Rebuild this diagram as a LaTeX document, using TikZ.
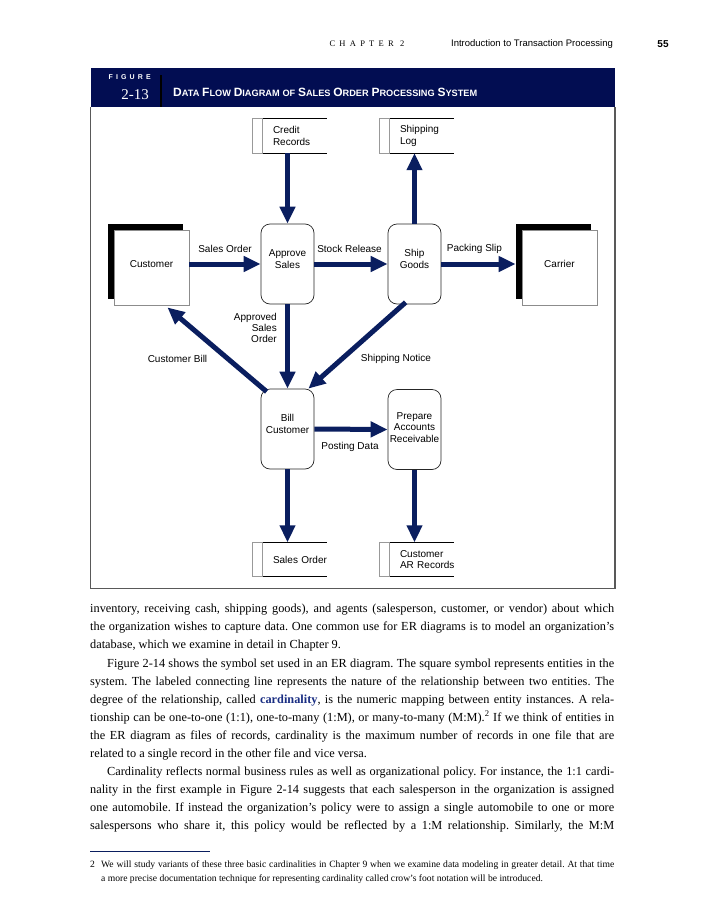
\documentclass[tikz,border=0pt]{standalone}
\usepackage{fontspec}
\setmainfont{Liberation Serif}
\setsansfont{Liberation Sans}
\usepackage{xcolor}
\usetikzlibrary{arrows.meta,shadows}
\definecolor{bandblue}{RGB}{2,13,82}
\definecolor{flowblue}{RGB}{10,30,95}
\definecolor{keyblue}{RGB}{25,45,130}
\newfontfamily\spacedserif[LetterSpace=50]{Liberation Serif}
\newfontfamily\spacedsans[LetterSpace=45]{Liberation Sans}
\newcommand{\capsm}[2]{{\fontsize{12}{12}\selectfont #1}{\fontsize{9.2}{12}\selectfont #2}}
\newcommand{\fullline}[1]{\makebox[524pt][s]{#1}}
\newcommand{\fnline}[1]{\makebox[513pt][s]{#1}}
\tikzset{
  lbl/.style={font=\sffamily\fontsize{10}{11}\selectfont, inner sep=0pt},
  proc/.style={draw=black!85, line width=0.7pt, rounded corners=9pt, fill=white,
    minimum width=53pt, minimum height=80pt, inner xsep=1pt, align=center,
    text depth=10pt, font=\sffamily\fontsize{10}{11.5}\selectfont},
  entity/.style={draw=black!45, line width=0.8pt, fill=white, minimum size=75pt,
    text depth=7pt, font=\sffamily\fontsize{10}{11.5}\selectfont,
    drop shadow={shadow xshift=-6pt, shadow yshift=6pt, fill=black, opacity=1}},
  store/.style={minimum width=64pt, minimum height=34pt, text width=44pt,
    inner xsep=10pt, align=left, font=\sffamily\fontsize{10}{11.5}\selectfont},
  flow/.style={line width=5pt, flowblue, -{Triangle[length=17pt,width=15pt]}},
}
\begin{document}
\begin{tikzpicture}[x=1pt,y=-1pt]
\useasboundingbox (0,0) rectangle (719,900);
\draw (367,44) node[font=\spacedserif\fontsize{8.5}{10}\selectfont](chap) {CHAPTER 2};
\draw (532,44) node[font=\sffamily\fontsize{9.5}{11}\selectfont](runhead) {Introduction to Transaction Processing};
\draw (663,44) node[font=\sffamily\bfseries\fontsize{10}{12}\selectfont](pagenum) {55};

\fill[bandblue] (90.5,68) rectangle (615,107);
\draw[black!65, line width=1.2pt] (90.5,107) -- (90.5,588.5) -- (615,588.5) -- (615,107);
\draw[black, line width=1.2pt] (161,75) -- (161,107);
\draw (151,77) node[anchor=east, inner sep=0pt, text=white, font=\spacedsans\bfseries\fontsize{7}{8}\selectfont](figword) {FIGURE};
\draw (149,95) node[anchor=east, inner sep=0pt, text=white, font=\fontsize{15}{16}\selectfont](fignum) {2-13};
\draw (173,92) node[anchor=west, inner sep=0pt, text=white, font=\sffamily\bfseries](figtitle)
  {\capsm{D}{ATA} \capsm{F}{LOW} \capsm{D}{IAGRAM} \capsm{}{OF} \capsm{S}{ALES} \capsm{O}{RDER} \capsm{P}{ROCESSING} \capsm{S}{YSTEM}};

\draw (295,136) node[store](credit) {Credit\\Records};
\draw (422,136) node[store](shiplog) {Shipping\\Log};
\draw (295,559.5) node[store](salesord) {\mbox{Sales Order}};
\draw (422,559.5) node[store](arrec) {Customer\\\mbox{AR Records}};
\foreach \s in {credit,shiplog,salesord,arrec}{
  \draw[black!40, line width=0.8pt] ([xshift=-10pt]\s.north west) rectangle (\s.south west);
  \draw[line width=0.8pt] (\s.north west) -- (\s.north east) (\s.south west) -- (\s.south east);
}

\draw (151.5,267.5) node[entity](cust) {Customer};
\draw (559.5,267.5) node[entity](carrier) {Carrier};
\draw (287.5,264) node[proc](approve) {Approve\\Sales};
\draw (414.5,264) node[proc](ship) {Ship\\Goods};
\draw (287.5,429) node[proc](bill) {Bill\\Customer};
\draw (414.5,429.5) node[proc, text depth=4pt](prepare) {Prepare\\Accounts\\Receivable};

\draw[flow] (cust.east |- approve.west) -- (approve.west);
\draw[flow] (approve.north |- credit.south) -- (approve.north);
\draw[flow] (approve.east) -- (ship.west);
\draw[flow] (ship.north) -- (ship.north |- shiplog.south);
\draw[flow] (ship.east) -- ([xshift=-6pt]carrier.west |- ship.east);
\draw[flow] (approve.south) -- (bill.north);
\draw[flow] ([xshift=18pt,yshift=2pt]ship.south west) -- ([xshift=-6pt]bill.north east);
\draw[flow] ([xshift=6pt,yshift=-3pt]bill.north west) -- ([xshift=-22pt,yshift=-2pt]cust.south east);
\draw[flow] (bill.east) -- (prepare.west);
\draw[flow] (bill.south) -- (bill.south |- salesord.north);
\draw[flow] (prepare.south) -- (prepare.south |- arrec.north);

\draw (225,249) node[lbl](lsales) {Sales Order};
\draw (349.5,249) node[lbl](lstock) {Stock Release};
\draw (474.5,249) node[lbl](lpack) {Packing Slip};
\draw (277,327.5) node[lbl, anchor=east, align=right](lappr) {Approved\\Sales\\Order};
\draw (177.5,359) node[lbl](lbill) {Customer Bill};
\draw (396,359) node[lbl](lnotice) {Shipping Notice};
\draw (350,447) node[lbl](lpost) {Posting Data};

\draw (90,604) node[anchor=north west, inner sep=0pt, align=left,
  font=\fontsize{12.3}{18.1}\selectfont\frenchspacing](body) {%
\fullline{inventory, receiving cash, shipping goods), and agents (salesperson, customer, or vendor) about which}\\
\fullline{the organization wishes to capture data. One common use for ER diagrams is to model an organization’s}\\
database, which we examine in detail in Chapter 9.\\
\fullline{\hspace*{17pt}Figure 2-14 shows the symbol set used in an ER diagram. The square symbol represents entities in the}\\
\fullline{system. The labeled connecting line represents the nature of the relationship between two entities. The}\\
\fullline{degree of the relationship, called {\bfseries\color{keyblue}cardinality}, is the numeric mapping between entity instances. A rela-}\\
\fullline{tionship can be one-to-one (1:1), one-to-many (1:M), or many-to-many (M:M).\textsuperscript{2} If we think of entities in}\\
\fullline{the ER diagram as files of records, cardinality is the maximum number of records in one file that are}\\
related to a single record in the other file and vice versa.\\
\fullline{\hspace*{17pt}Cardinality reflects normal business rules as well as organizational policy. For instance, the 1:1 cardi-}\\
\fullline{nality in the first example in Figure 2-14 suggests that each salesperson in the organization is assigned}\\
\fullline{one automobile. If instead the organization’s policy were to assign a single automobile to one or more}\\
\fullline{salespersons who share it, this policy would be reflected by a 1:M relationship. Similarly, the M:M}};

\draw[flowblue, line width=0.7pt] (90,851) -- (210,851);
\draw (90,861) node[anchor=north west, inner sep=0pt, align=left,
  font=\fontsize{9.6}{14}\selectfont\frenchspacing](footnote) {%
\makebox[11pt][l]{2}\fnline{We will study variants of these three basic cardinalities in Chapter 9 when we examine data modeling in greater detail. At that time}\\
\hspace*{11pt}a more precise documentation technique for representing cardinality called crow’s foot notation will be introduced.};
\end{tikzpicture}
\end{document}
